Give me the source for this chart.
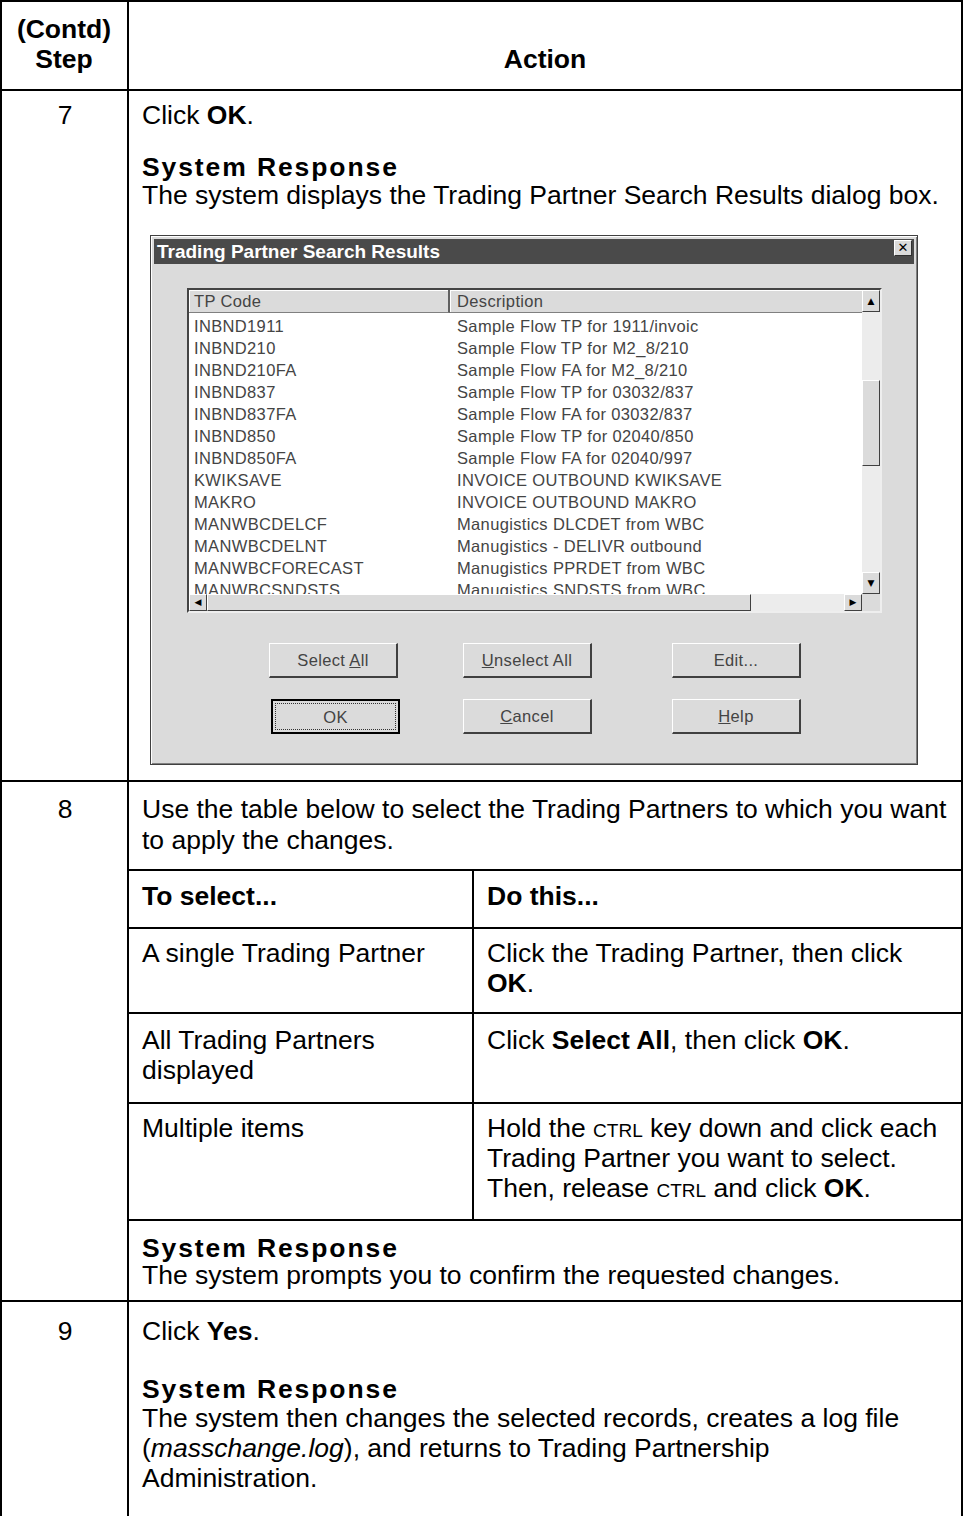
<!DOCTYPE html>
<html>
<head>
<meta charset="utf-8">
<script src="https://cdn.jsdelivr.net/npm/chart.js@4.4.0/dist/chart.umd.min.js"></script>
<style>
  html, body { margin: 0; padding: 0; background: #fff; }
  #page { position: relative; width: 963px; height: 1516px; overflow: hidden; font-family: "Liberation Sans", Arial, sans-serif; color: #000; }
  .ln { position: absolute; background: #000; }
  .t { position: absolute; font-size: 26.5px; line-height: 30px; white-space: nowrap; }
  .c { transform: translateX(-50%); text-align: center; }
  .b { font-weight: bold; }
  .sr { font-weight: bold; letter-spacing: 1.9px; }
  .sc { font-size: 19px; }
  /* dialog */
  .dlg { position: absolute; left: 150px; top: 235px; width: 766px; height: 528px; background: #dbdbdb; border: 1px solid #404040; box-shadow: inset 1px 1px 0 #fff, inset -1px -1px 0 #808080; }
  .title { position: absolute; left: 3px; top: 3px; width: 760px; height: 25px; background: #4a4a4a; color: #fff; font: bold 19px "Liberation Sans", Arial, sans-serif; line-height: 25px; text-indent: 3px; }
  .xbtn { position: absolute; right: 5px; top: 4px; width: 16px; height: 14px; background: #dbdbdb; border: 1px solid #fff; border-right-color: #303030; border-bottom-color: #303030; font: 13px "DejaVu Sans"; line-height: 13px; text-align: center; color: #000; text-indent: 0; }
  .lst { position: absolute; left: 36px; top: 52px; width: 691px; height: 321px; background: #fff; border: 2px solid #444; border-right-color: #eee; border-bottom-color: #eee; overflow: hidden; }
  .dt { position: absolute; font: 16.5px "Liberation Sans", Arial, sans-serif; letter-spacing: 0.35px; color: #444; white-space: nowrap; line-height: 22px; }
  .hdr { position: absolute; top: 0; height: 22px; background: #dbdbdb; border-right: 2px solid #606060; border-bottom: 1px solid #808080; box-shadow: inset 1px 1px 0 #fff; }
  .sb { position: absolute; background: #ececec; }
  .sbb { position: absolute; background: #dbdbdb; border: 1px solid #fff; border-right-color: #404040; border-bottom-color: #404040; box-sizing: border-box; font: 9px "DejaVu Sans"; color: #000; text-align: center; }
  .btn { position: absolute; width: 129px; height: 35px; background: #dbdbdb; border: 1px solid #fff; border-right: 2px solid #404040; border-bottom: 2px solid #404040; box-sizing: border-box; font: 16.5px "Liberation Sans", Arial, sans-serif; letter-spacing: 0.35px; color: #444; text-align: center; line-height: 32px; }
  .btn u { text-decoration: underline; }
</style>
</head>
<body>
<div id="page"></div>
<script>
// header labels
var headStep = ["(Contd)", "Step"];
var headAction = "Action";

// step numbers and their text
var steps = ["7", "8", "9"];
var step7Lines = ["Click <b>OK</b>."];
var srLabel = "System Response";
var step7Response = ["The system displays the Trading Partner Search Results dialog box."];

// dialog contents
var dlgTitle = "Trading Partner Search Results";
var listCols = ["TP Code", "Description"];
var tpCodes = ["INBND1911", "INBND210", "INBND210FA", "INBND837", "INBND837FA", "INBND850", "INBND850FA",
  "KWIKSAVE", "MAKRO", "MANWBCDELCF", "MANWBCDELNT", "MANWBCFORECAST", "MANWBCSNDSTS"];
var tpDescs = ["Sample Flow TP for 1911/invoic", "Sample Flow TP for M2_8/210", "Sample Flow FA for M2_8/210",
  "Sample Flow TP for 03032/837", "Sample Flow FA for 03032/837", "Sample Flow TP for 02040/850",
  "Sample Flow FA for 02040/997", "INVOICE OUTBOUND KWIKSAVE", "INVOICE OUTBOUND MAKRO",
  "Manugistics DLCDET from WBC", "Manugistics - DELIVR outbound", "Manugistics PPRDET from WBC",
  "Manugistics SNDSTS from WBC"];
var buttonsRow1 = ["Select <u>A</u>ll", "<u>U</u>nselect All", "Edit..."];
var buttonsRow2 = ["OK", "<u>C</u>ancel", "<u>H</u>elp"];

// step 8
var step8Lines = ["Use the table below to select the Trading Partners to which you want", "to apply the changes."];
var selHead = ["To select...", "Do this..."];
var selLeft = [["A single Trading Partner"], ["All Trading Partners", "displayed"], ["Multiple items"]];
var selRight = [
  ["Click the Trading Partner, then click", "<b>OK</b>."],
  ["Click <b>Select All</b>, then click <b>OK</b>."],
  ["Hold the <span class='sc'>CTRL</span> key down and click each", "Trading Partner you want to select.", "Then, release <span class='sc'>CTRL</span> and click <b>OK</b>."]
];
var step8Response = ["The system prompts you to confirm the requested changes."];

// step 9
var step9Lines = ["Click <b>Yes</b>."];
var step9Response = ["The system then changes the selected records, creates a log file",
  "(<i>masschange.log</i>), and returns to Trading Partnership", "Administration."];

var page = document.getElementById("page");

function el(parent, cls, css, html) {
  var d = document.createElement("div");
  d.className = cls;
  for (var k in css) d.style[k] = typeof css[k] === "number" ? css[k] + "px" : css[k];
  if (html !== undefined) d.innerHTML = html;
  parent.appendChild(d);
  return d;
}
function hline(x1, x2, y, w) { el(page, "ln", { left: x1, top: y, width: x2 - x1, height: w || 2 }); }
function vline(x, y1, y2, w) { el(page, "ln", { left: x, top: y1, width: w || 2, height: y2 - y1 }); }
function text(x, y, html, cls) { return el(page, "t " + (cls || ""), { left: x, top: y - 15 }, html); }
function lines(x, y, arr, step, cls) {
  for (var i = 0; i < arr.length; i++) text(x, y + i * (step || 30), arr[i], cls);
}

// table frame
hline(0, 963, 0);
vline(0, 0, 1516);
vline(961, 0, 1516);
vline(127, 0, 1516);
hline(0, 963, 89);
hline(0, 963, 780);
hline(0, 963, 1300);

// header
text(64, 29, headStep[0], "b c");
text(64, 59, headStep[1], "b c");
text(545, 59, headAction, "b c");

// step 7
text(65, 115, steps[0], "c");
lines(142, 115, step7Lines);
text(142, 167, srLabel, "sr");
lines(142, 195, step7Response);

// dialog
var dlg = el(page, "dlg", {});
el(dlg, "title", {}, dlgTitle);
el(dlg, "xbtn", {}, "&#x2715;");
var lst = el(dlg, "lst", {});
el(lst, "hdr", { left: 0, width: 259 });
el(lst, "hdr", { left: 261, width: 412, borderRight: "none" });
el(lst, "dt", { left: 5, top: 0 }, listCols[0]);
el(lst, "dt", { left: 268, top: 0 }, listCols[1]);
for (var i = 0; i < tpCodes.length; i++) {
  el(lst, "dt", { left: 5, top: 25 + i * 22 }, tpCodes[i]);
  el(lst, "dt", { left: 268, top: 25 + i * 22 }, tpDescs[i]);
}
// vertical scrollbar
el(lst, "sb", { left: 673, top: 0, width: 18, height: 304 });
el(lst, "sbb", { left: 673, top: 0, width: 18, height: 22, lineHeight: "20px" }, "&#9650;");
el(lst, "sbb", { left: 673, top: 90, width: 18, height: 86 });
el(lst, "sbb", { left: 673, top: 282, width: 18, height: 22, lineHeight: "20px" }, "&#9660;");
// horizontal scrollbar
el(lst, "sb", { left: 0, top: 304, width: 673, height: 17 });
el(lst, "sbb", { left: 0, top: 304, width: 18, height: 17, lineHeight: "15px" }, "&#9664;");
el(lst, "sbb", { left: 18, top: 304, width: 544, height: 17 });
el(lst, "sbb", { left: 655, top: 304, width: 18, height: 17, lineHeight: "15px" }, "&#9654;");
el(lst, "sb", { left: 673, top: 304, width: 18, height: 17, background: "#dbdbdb" });

var bx = [118, 312, 521];
for (var j = 0; j < 3; j++) {
  el(dlg, "btn", { left: bx[j], top: 407 }, buttonsRow1[j]);
  var b = el(dlg, "btn", { left: bx[j] + (j === 0 ? 2 : 0), top: 463 }, buttonsRow2[j]);
  if (j === 0) { b.style.border = "2px solid #000"; b.style.outline = "1px dotted #333"; b.style.outlineOffset = "-5px"; }
}

// step 8
text(65, 809, steps[1], "c");
lines(142, 809, step8Lines, 31);
hline(127, 963, 869);
hline(127, 963, 927);
hline(127, 963, 1012);
hline(127, 963, 1102);
hline(127, 963, 1219);
vline(472, 869, 1220);
text(142, 896, selHead[0], "b");
text(487, 896, selHead[1], "b");
var rowY = [953, 1040, 1128];
for (var r = 0; r < 3; r++) {
  lines(142, rowY[r], selLeft[r]);
  lines(487, rowY[r], selRight[r]);
}
text(142, 1248, srLabel, "sr");
lines(142, 1275, step8Response);

// step 9
text(65, 1331, steps[2], "c");
lines(142, 1331, step9Lines);
text(142, 1389, srLabel, "sr");
lines(142, 1418, step9Response);
</script>
</body>
</html>
